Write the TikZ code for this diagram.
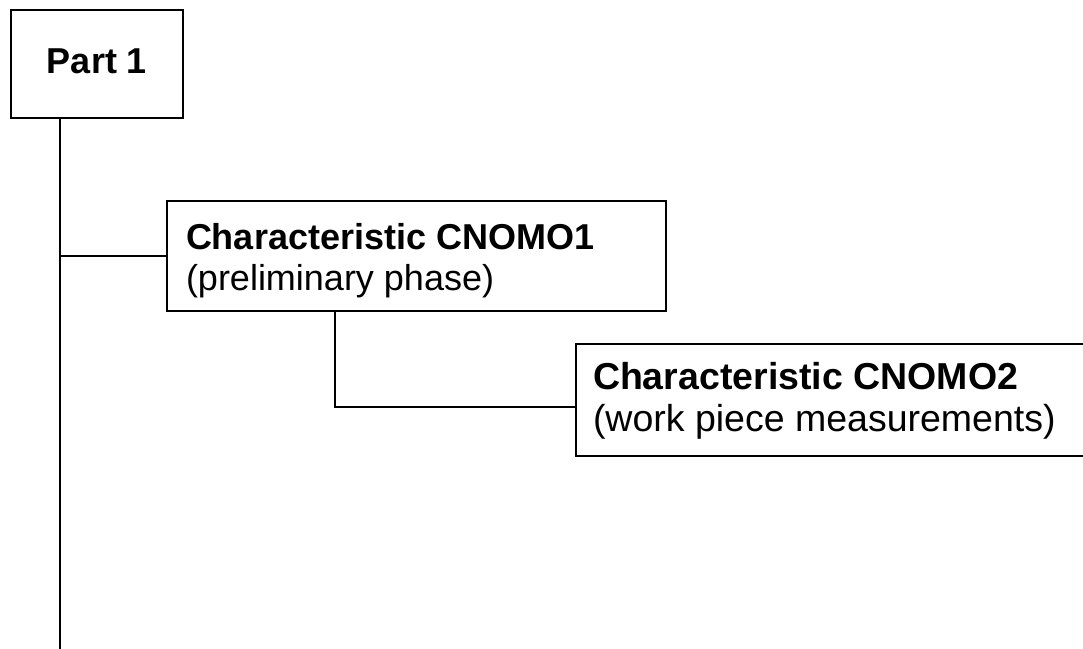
\documentclass[tikz,border=0pt]{standalone}
\usepackage{fontspec}
\setmainfont{Liberation Sans}
\begin{document}
\begin{tikzpicture}[x=1pt,y=-1pt,
  every node/.style={font=\fontsize{36}{41}\selectfont},
  wire/.style={line width=2pt},
  frame/.style={draw, line width=2pt, inner ysep=0pt, inner xsep=19pt, anchor=north west},
  headbox/.style={draw, line width=2pt, inner sep=0pt, anchor=north west,
    minimum width=172pt, minimum height=108pt, text height=26pt, text depth=8pt}
]
\useasboundingbox (0,0) rectangle (1083,648);

% top-level part
\node[headbox] (p1) at (10,9) {\textbf{Part 1}};

% first characteristic
\node[frame] (c1) at (166,200)
  {\parbox[c][110pt][t]{461pt}{\rule{0pt}{48pt}\textbf{Characteristic CNOMO1}\\(preliminary phase)}};

% second characteristic, running past the right edge
\node[frame, inner xsep=17pt, font=\fontsize{37.5}{42}\selectfont] (c2) at (575,343)
  {\parbox[c][112pt][t]{490pt}{\rule{0pt}{45pt}\textbf{Characteristic CNOMO2}\\(work piece measurements)}};

% trunk and branches
\coordinate (trunktop) at ([xshift=50pt]p1.south west);
\coordinate (trunkend) at (60,652);
\coordinate (drop) at ([xshift=169pt]c1.south west);
\coordinate (c2in) at ([yshift=-7pt]c2.west);

\draw[wire] (trunktop) -- (trunkend);
\draw[wire] (trunktop |- c1.west) -- (c1.west);
\draw[wire] (drop) |- (c2in);
\end{tikzpicture}
\end{document}
